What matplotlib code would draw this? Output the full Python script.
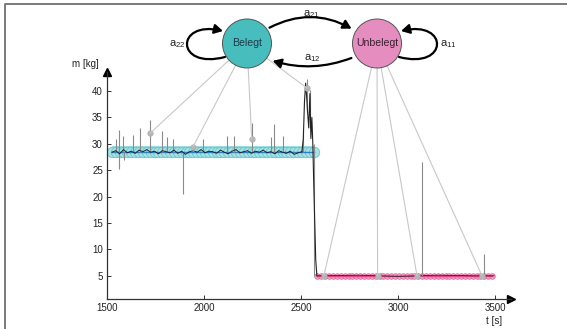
import numpy as np
import matplotlib
matplotlib.use('Agg')
import matplotlib.pyplot as plt
from matplotlib.patches import Circle, FancyArrowPatch, ConnectionPatch
from matplotlib.path import Path

plt.rcParams['font.family'] = ['Liberation Sans', 'DejaVu Sans']

# gefilterte Masse (Belegt), Startzeit 1525 s, Abstand 20 s
belegt_t0 = 1525
belegt_dt = 20
belegt_m = [28.4, 28.7, 28.1, 28.9, 28.3, 28.6, 28.2, 28.8, 28.5, 28.9,
            28.4, 28.6, 28.1, 28.7, 28.5, 28.3, 28.8, 28.2, 28.6, 28.0,
            28.5, 28.7, 28.4, 28.9, 28.3, 28.6, 28.5, 28.2, 28.8, 28.4,
            28.1, 28.6, 28.9, 28.3, 28.5, 28.7, 28.2, 28.6, 28.4, 28.8,
            28.3, 28.5, 28.1, 28.7, 28.4, 28.2, 28.6, 28.0, 28.3, 28.5]

# Übergang (Aufstehen)
trans_t = [2505, 2512, 2518, 2524, 2529, 2534, 2540, 2546, 2551, 2556, 2561, 2566, 2571, 2576, 2582]
trans_m = [28.5, 31.0, 38.0, 41.5, 39.0, 36.0, 33.0, 39.5, 31.0, 35.0, 30.0, 22.0, 15.0, 8.0, 5.0]

# Unbelegt
unbel_t = [2582, 2800, 3000, 3200, 3400, 3495]
unbel_m = [5.0, 5.1, 4.9, 5.1, 5.0, 5.0]

# Rohsignal-Ausreißer: Zeit, Basis, Spitze
spike_t = [1546, 1564, 1564, 1584, 1590, 1632, 1670, 1722, 1785, 1811, 1839, 1890, 1997,
           2117, 2155, 2246, 2344, 2361, 2406, 2509, 2529, 2546, 2568, 3122, 3443]
spike_lo = [28.5, 28.5, 25.3, 28.5, 27.0, 28.5, 28.5, 28.5, 28.5, 28.5, 28.5, 20.5, 28.5,
            28.5, 28.5, 28.5, 28.5, 28.5, 28.5, 28.5, 36.0, 33.0, 5.0, 5.0, 5.0]
spike_hi = [31.0, 32.6, 28.5, 31.5, 28.5, 31.7, 32.9, 34.5, 32.4, 31.3, 31.0, 28.5, 31.0,
            31.5, 31.5, 34.0, 31.3, 33.8, 31.5, 32.6, 42.3, 40.1, 30.0, 26.5, 9.2]

# Zustandsfolge (HMM)
state_dt = 20
belegt_state = (1525, 2585, 28.5)
unbel_state = (2585, 3495, 5.0)

# Verbindungen Zustand -> Messpunkt
link_belegt_t = [1722, 1943, 2246, 2529]
link_belegt_m = [32.0, 29.4, 30.85, 40.6]
link_unbel_t = [2618, 2895, 3098, 3433]
link_unbel_m = [5.0, 5.0, 5.0, 5.0]

W, H = 567, 329
fig = plt.figure(figsize=(W / 100, H / 100), dpi=100)
ax = fig.add_axes([107 / W, 30 / H, 403.5 / W, 227 / H])
ax.set_xlim(1500, 3580)
ax.set_ylim(0.6, 43.6)

# Zustandsbänder
bt = np.arange(belegt_state[0], belegt_state[1], state_dt)
ax.fill_between(bt, belegt_state[2] - 1.0, belegt_state[2] + 1.1, color='#9fdfe3', lw=0, zorder=1)
ax.plot(bt, np.full(len(bt), belegt_state[2]), 'o', ms=7.5, mfc='#a8e2e6', mec='#5fc8cf',
        mew=0.6, zorder=1)
ax.plot(bt, np.full(len(bt), belegt_state[2]), color='#2f7fc4', lw=1.0, zorder=2)

ut = np.arange(unbel_state[0], unbel_state[1], state_dt)
ax.plot(ut, np.full(len(ut), unbel_state[2]), 'o', ms=4, mfc='#f3a6cc', mec='#e2679f',
        mew=0.6, zorder=1)
ax.plot(ut, np.full(len(ut), unbel_state[2]), color='#e0457f', lw=1.0, zorder=2)

# Rohsignal und gefiltertes Signal
ax.vlines(spike_t, spike_lo, spike_hi, color='#8a8a8a', lw=0.8, zorder=3)
bm_t = belegt_t0 + belegt_dt * np.arange(len(belegt_m))
ax.plot(bm_t, belegt_m, color='#222222', lw=0.7, zorder=4)
ax.plot(trans_t, trans_m, color='#222222', lw=0.8, zorder=4)
ax.plot(unbel_t, unbel_m, color='#222222', lw=0.6, zorder=2)

# Achsen im Pfeilstil
for s in ['top', 'right']:
    ax.spines[s].set_visible(False)
for s in ['left', 'bottom']:
    ax.spines[s].set_color('#333333')
    ax.spines[s].set_linewidth(0.9)
ax.plot(1, 0, '>', color='black', ms=6, transform=ax.transAxes, clip_on=False)
ax.plot(0, 1, '^', color='black', ms=6, transform=ax.transAxes, clip_on=False)
ax.set_xticks([1500, 2000, 2500, 3000, 3500])
ax.set_yticks([5, 10, 15, 20, 25, 30, 35, 40])
ax.tick_params(direction='in', length=3, width=0.7, labelsize=7, colors='#333333',
               labelcolor='#222222', pad=3)
ax.patch.set_alpha(0)

# Overlay in Pixelkoordinaten
ov = fig.add_axes([0, 0, 1, 1], zorder=5)
ov.set_xlim(0, W)
ov.set_ylim(H, 0)
ov.axis('off')
ov.patch.set_alpha(0)

ov.plot([5, 5, W], [H, 4, 4], color='#7a7a7a', lw=1.4, clip_on=False)

ov.text(85, 64, 'm [kg]', fontsize=7, ha='center', va='center', color='#222222')
ov.text(494, 321, 't [s]', fontsize=7, ha='center', va='center', color='#222222')

bx, by, r = 247, 43.5, 24.5
ux, uy = 377, 43.5

for nx, ny, lt, lm in [(bx, by, link_belegt_t, link_belegt_m), (ux, uy, link_unbel_t, link_unbel_m)]:
    for t, m in zip(lt, lm):
        cp = ConnectionPatch((nx, ny), (t, m), coordsA=ov.transData, coordsB=ax.transData,
                             color='#c8c8c8', lw=0.8, zorder=1)
        ov.add_artist(cp)
    ax.plot(lt, lm, 'o', ms=3.5, color='#b5b5b5', zorder=5, clip_on=False)

ov.add_patch(Circle((bx, by), r, fc='#47bdbd', ec='#555555', lw=0.7, zorder=3))
ov.add_patch(Circle((ux, uy), r, fc='#e68dbf', ec='#555555', lw=0.7, zorder=3))
ov.text(bx, by, 'Belegt', fontsize=7.6, ha='center', va='center', color='#1f3a4a', zorder=4)
ov.text(ux, uy, 'Unbelegt', fontsize=7.6, ha='center', va='center', color='#3a1f30', zorder=4)

astyle = dict(arrowstyle='-|>,head_length=5,head_width=2.8', color='black', lw=1.6, zorder=4)
ov.add_patch(FancyArrowPatch((267, 29), (354, 30), connectionstyle='arc3,rad=-0.28', **astyle))
ov.add_patch(FancyArrowPatch((354, 57), (270, 60), connectionstyle='arc3,rad=-0.18', **astyle))
loop_l = Path([(225, 57), (175, 70), (175, 20), (223, 31)],
              [Path.MOVETO, Path.CURVE4, Path.CURVE4, Path.CURVE4])
loop_r = Path([(399, 57), (449, 70), (449, 20), (401, 31)],
              [Path.MOVETO, Path.CURVE4, Path.CURVE4, Path.CURVE4])
ov.add_patch(FancyArrowPatch(path=loop_l, **astyle))
ov.add_patch(FancyArrowPatch(path=loop_r, **astyle))

lab = dict(fontsize=8, ha='center', va='center', color='#222222')
ov.text(311, 14, r'a$_{\mathregular{21}}$', **lab)
ov.text(312, 58, r'a$_{\mathregular{12}}$', **lab)
ov.text(177, 44, r'a$_{\mathregular{22}}$', **lab)
ov.text(448, 44, r'a$_{\mathregular{11}}$', **lab)

fig.savefig('out.png', dpi=100)
